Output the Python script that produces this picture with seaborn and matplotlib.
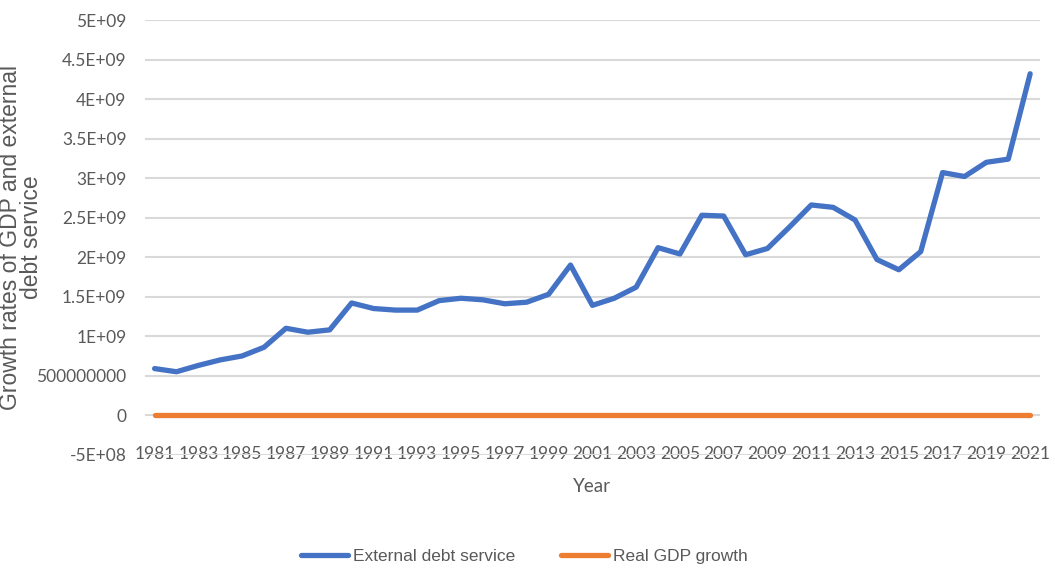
import pandas as pd
import matplotlib
matplotlib.use("Agg")
import matplotlib.pyplot as plt
import seaborn as sns
from matplotlib import font_manager

# values
years = list(range(1981, 2022))
debt_service = [5.9e8, 5.5e8, 6.3e8, 7.0e8, 7.5e8, 8.6e8, 1.10e9, 1.05e9, 1.08e9, 1.42e9,
                1.35e9, 1.33e9, 1.33e9, 1.45e9, 1.48e9, 1.46e9, 1.41e9, 1.43e9, 1.53e9, 1.90e9,
                1.39e9, 1.48e9, 1.62e9, 2.12e9, 2.04e9, 2.53e9, 2.52e9, 2.03e9, 2.11e9, 2.38e9,
                2.66e9, 2.63e9, 2.47e9, 1.97e9, 1.84e9, 2.07e9, 3.07e9, 3.02e9, 3.20e9, 3.24e9,
                4.32e9]
gdp_growth = [0, 0, 0, 0, 0, 0, 0, 0, 0, 0,
              0, 0, 0, 0, 0, 0, 0, 0, 0, 0,
              0, 0, 0, 0, 0, 0, 0, 0, 0, 0,
              0, 0, 0, 0, 0, 0, 0, 0, 0, 0,
              0]
series_names = ["External debt service", "Real GDP growth"]
ytick_vals = [-5e8, 0, 5e8, 1e9, 1.5e9, 2e9, 2.5e9, 3e9, 3.5e9, 4e9, 4.5e9, 5e9]
ytick_labels = ["-5E+08", "0", "500000000", "1E+09", "1.5E+09", "2E+09", "2.5E+09",
                "3E+09", "3.5E+09", "4E+09", "4.5E+09", "5E+09"]
xtick_years = list(range(1981, 2022, 2))

df = pd.DataFrame({
    "Year": years * 2,
    "value": debt_service + gdp_growth,
    "series": [series_names[0]] * len(years) + [series_names[1]] * len(years),
})

sns.set_style("white")
names = {f.name for f in font_manager.fontManager.ttflist}
if "Liberation Sans Narrow" in names:
    tick_font, tick_size = "Liberation Sans Narrow", 15
else:
    tick_font, tick_size = "Lato", 12.5
plt.rcParams["font.family"] = ["Liberation Sans", "DejaVu Sans"]

grey = "#595959"
fig = plt.figure(figsize=(10.55, 5.72), dpi=100)
ax = fig.add_axes([0.137, 0.205, 0.849, 0.76])

sns.lineplot(data=df, x="Year", y="value", hue="series",
             palette=["#4472C4", "#ED7D31"], linewidth=3.8, ax=ax,
             solid_capstyle="round")

ax.set_xlim(1980.54, 2021.46)
ax.set_ylim(-5e8, 5e9)
ax.set_yticks(ytick_vals)
ax.set_yticklabels(ytick_labels, fontfamily=tick_font, fontsize=tick_size, color=grey)
ax.set_xticks(xtick_years)
ax.set_xticklabels([str(y) for y in xtick_years], fontfamily=tick_font,
                   fontsize=tick_size, color=grey)
ax.tick_params(axis="y", length=0, pad=13)
ax.tick_params(axis="x", length=0, pad=-6)
ax.grid(axis="y", color="#D9D9D9", linewidth=1.5)
ax.set_axisbelow(True)
for s in ax.spines.values():
    s.set_visible(False)

ax.set_xlabel("Year", fontfamily=tick_font, fontsize=tick_size + 1, color=grey, labelpad=11)
ax.set_ylabel("Growth rates of GDP and external\ndebt service", fontsize=16.5,
              color=grey, linespacing=0.9)
ax.yaxis.set_label_coords(-0.113, 0.5)

ax.legend(loc="center", bbox_to_anchor=(0.424, -0.235), ncol=2, frameon=False,
          fontsize=12.5, handlelength=2.7, handletextpad=0.3, columnspacing=2.6,
          labelcolor=grey)

fig.savefig("out.png", dpi=100)
